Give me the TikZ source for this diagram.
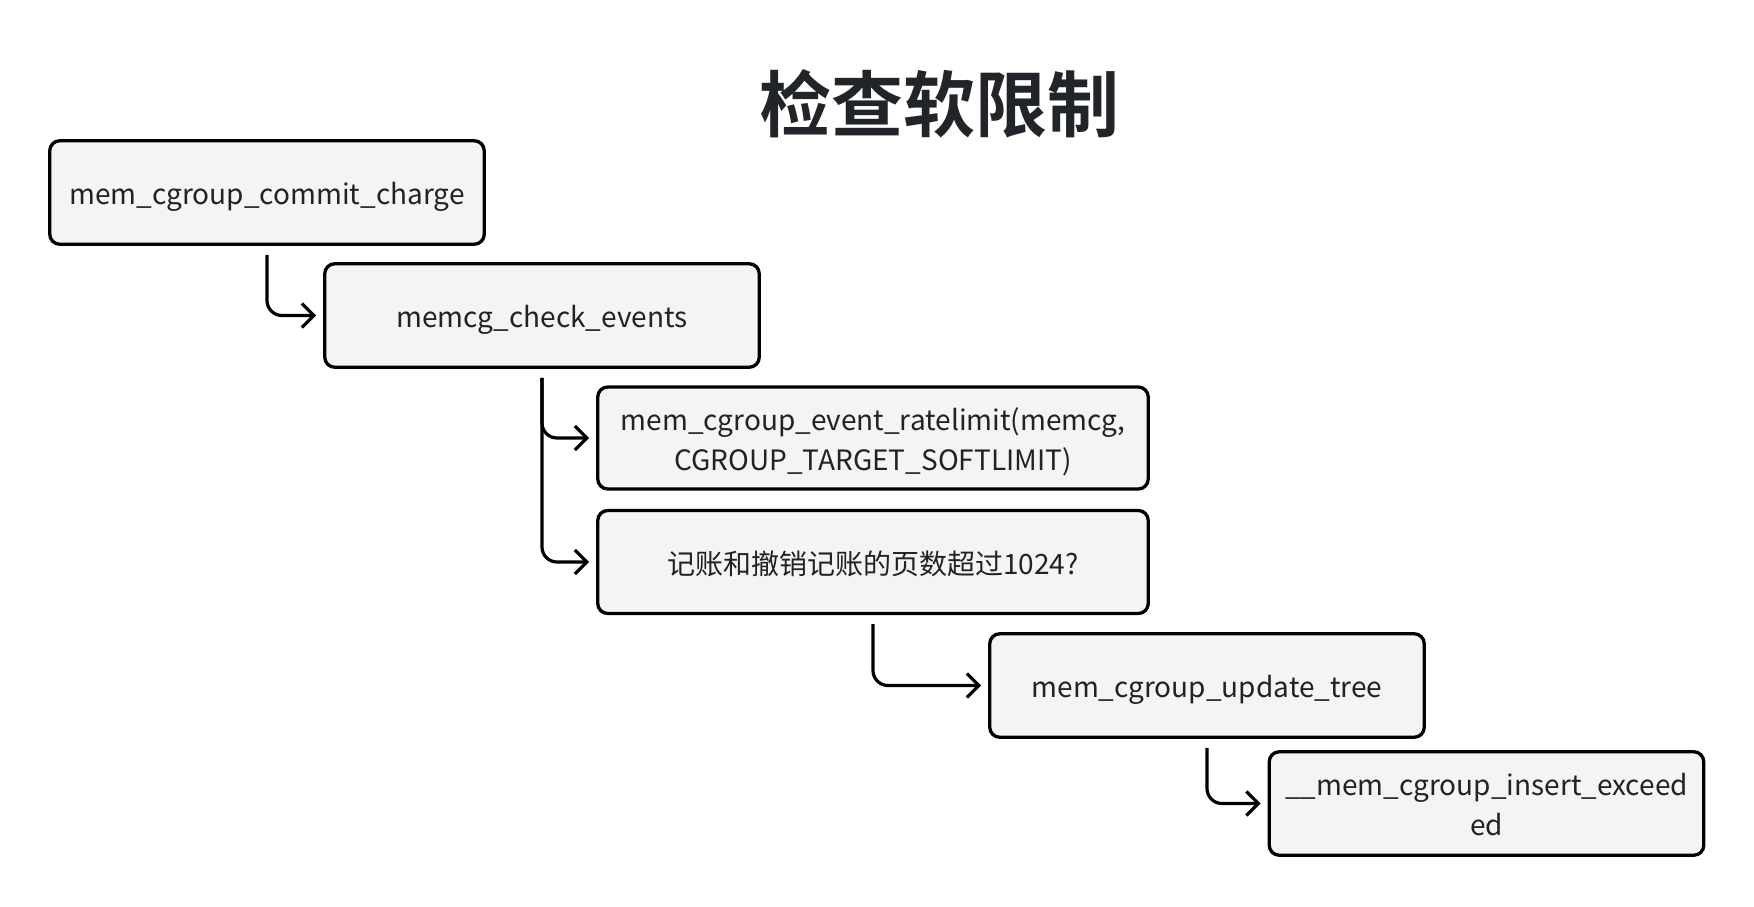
\documentclass[tikz,border=0pt]{standalone}
\usepackage{fontspec}
\setmainfont{Noto Sans CJK SC}[BoldFont={Noto Sans CJK SC Bold}]
\usetikzlibrary{arrows.meta,calc}
\definecolor{boxfill}{HTML}{F4F4F4}
\definecolor{txt}{HTML}{222222}
\definecolor{ttl}{HTML}{212529}
\tikzset{
  fbox/.style={draw=black, line width=3.3pt, fill=boxfill, rounded corners=10pt,
    minimum height=103.5pt, inner sep=0pt, align=center, text=txt,
    font=\fontsize{28}{40}\selectfont, text height=30pt, text depth=6pt},
  twoline/.style={text height=20pt, text depth=36pt},
  conn/.style={draw=black, line width=3.2pt, rounded corners=15pt,
    -{Straight Barb[length=12pt,width=24pt,line width=3.2pt]}, shorten >=7pt}
}
\begin{document}
\begin{tikzpicture}[x=1pt,y=-1pt]
\useasboundingbox[fill=white] (0,0) rectangle (1754,906);
\node[text=ttl, font=\fontsize{72}{80}\selectfont\bfseries] (title) at (939,104) {检查软限制};
\node[fbox, minimum width=434.5pt] (b1) at (267,192.5) {mem\_cgroup\_commit\_charge};
\node[fbox, minimum width=434.5pt] (b2) at (542,315.5) {memcg\_check\_events};
\node[fbox, twoline, minimum width=550.5pt, minimum height=102pt] (b3) at (873,438) {\begin{tabular}[t]{@{}c@{}}mem\_cgroup\_event\_ratelimit(memcg,\\CGROUP\_TARGET\_SOFTLIMIT)\end{tabular}};
\node[fbox, minimum width=550.5pt, minimum height=103pt] (b4) at (873,562) {记账和撤销记账的页数超过1024?};
\node[fbox, minimum width=434.5pt] (b5) at (1207,685.5) {mem\_cgroup\_update\_tree};
\node[fbox, twoline, minimum width=434.5pt] (b6) at (1486.5,803.5) {\begin{tabular}[t]{@{}c@{}}\_\_mem\_cgroup\_insert\_exceed\\ed\end{tabular}};
\draw[conn] ([yshift=-9pt]b1.south) |- (b2.west);
\draw[conn] ([yshift=-9pt]b2.south) |- (b3.west);
\draw[conn] ([yshift=-9pt]b2.south) |- (b4.west);
\draw[conn] ([yshift=-9pt]b4.south) |- (b5.west);
\draw[conn] ([yshift=-9pt]b5.south) |- (b6.west);
\end{tikzpicture}
\end{document}
